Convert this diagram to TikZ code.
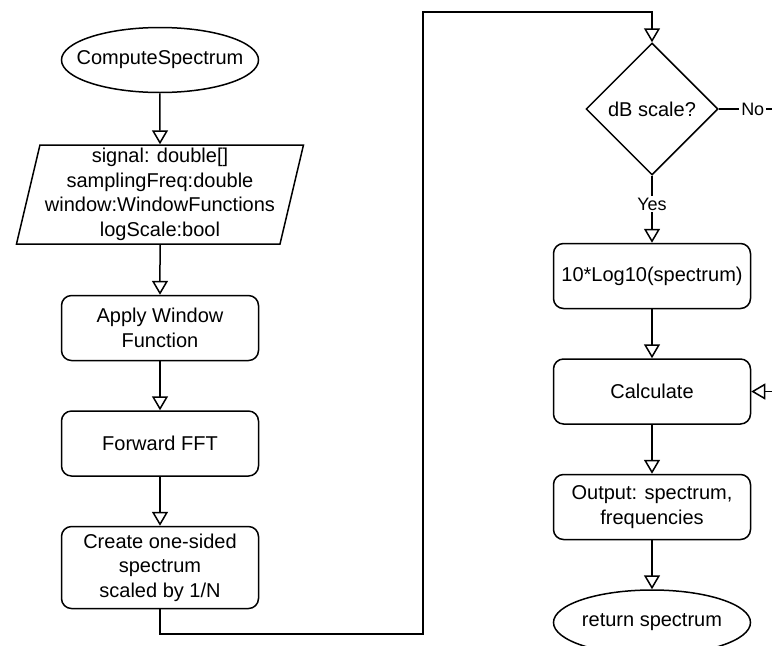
\documentclass[tikz,border=0pt]{standalone}
\usepackage{fontspec}
\setmainfont{Liberation Sans}
\usetikzlibrary{arrows.meta}
\usetikzlibrary{positioning,shapes.geometric}

\begin{document}
\begin{tikzpicture} [->,>={Triangle[open,length=14pt,width=16pt]},node distance=49pt,line width=1.5pt,
  every node/.style={font=\fontsize{20pt}{24.5pt}\selectfont},
  terminal/.style={draw,ellipse,minimum width=197pt,minimum height=65pt,inner xsep=-15pt},
  process/.style={draw,rectangle,rounded corners=10pt,minimum width=197pt,minimum height=65pt,inner sep=2pt,align=center},
  inout/.style={draw,trapezium,trapezium left angle=76,trapezium right angle=104,trapezium stretches body,
    minimum width=287pt,minimum height=99pt,inner sep=1pt,align=center},
  decision/.style={draw,diamond,minimum width=132pt,minimum height=132pt,inner sep=0pt},
  answer/.style={fill=white,inner sep=2pt,font=\fontsize{18pt}{20pt}\selectfont}]

  \clip (0,0) rectangle (772pt,-646pt);

  % left column
  \node[terminal] (start) at (160pt,-60pt) {ComputeSpectrum};
  \node[inout] (input) [below=51pt of start] {signal: double[]\\samplingFreq:double\\window:WindowFunctions\\logScale:bool};
  \node[process] (window) [below=50pt of input] {Apply Window\\Function};
  \node[process] (fft) [below=of window] {Forward FFT};
  \node[process] (onesided) [below=of fft, minimum height=82pt] {Create one-sided\\spectrum\\scaled by 1/N};

  % right column
  \node[decision] (dbq) at (652pt,-109pt) {dB scale?};
  \node[process] (logten) [below=67pt of dbq] {10*Log10(spectrum)};
  \node[process] (calc) [below=of logten] {Calculate};
  \node[process] (output) [below=of calc] {Output: spectrum,\\frequencies};
  \node[terminal] (stop) [below=of output] {return spectrum};

  \coordinate (lowturn) at (423pt,-634pt);
  \coordinate (highturn) at (423pt,-12pt);
  \coordinate[right=68pt of dbq.east] (noturn);

  \path
    (start) edge (input)
    (input) edge (window)
    (window) edge (fft)
    (fft) edge (onesided)
    (dbq) edge node[answer, pos=0.42] {Yes} (logten)
    (logten) edge (calc)
    (calc) edge (output)
    (output) edge (stop);

  \draw (onesided.south) |- (lowturn) -- (highturn) -| (dbq.north);
  \draw (dbq.east) -- node[answer] {No} (noturn) |- (calc.east);

\end{tikzpicture}
\end{document}
